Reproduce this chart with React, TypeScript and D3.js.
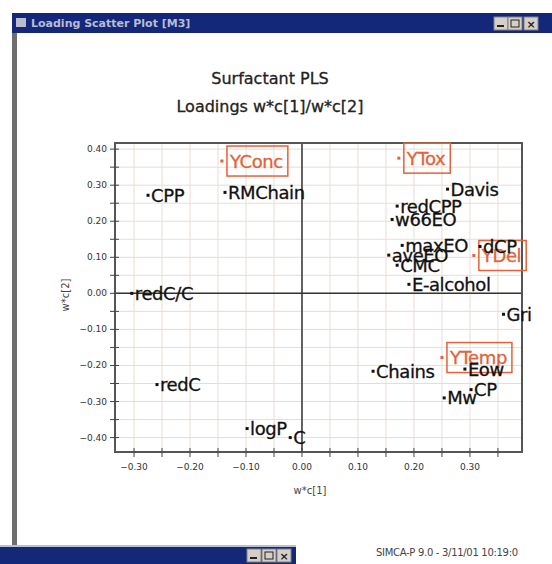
import * as d3 from 'd3'
import { useEffect, useRef } from 'react'

// loadings
const names = [
  'YConc', 'CPP', 'RMChain', 'redC/C', 'YTox', 'Davis', 'redCPP', 'w66EO',
  'YDel', 'maxEO', 'dCP', 'aveEO', 'CMC', 'E-alcohol', 'Gri', 'YTemp',
  'Eow', 'Chains', 'CP', 'Mw', 'redC', 'logP', 'C',
]
const wc1 = [
  -0.143, -0.275, -0.1375, -0.304, 0.173, 0.26, 0.17, 0.161,
  0.307, 0.179, 0.318, 0.155, 0.17, 0.191, 0.36, 0.25,
  0.291, 0.127, 0.302, 0.254, -0.259, -0.098, -0.021,
]
const wc2 = [
  0.367, 0.272, 0.28, 0.0, 0.375, 0.289, 0.242, 0.205,
  0.105, 0.133, 0.13, 0.106, 0.078, 0.025, -0.058, -0.178,
  -0.21, -0.216, -0.267, -0.29, -0.253, -0.375, -0.4,
]
const responses = ['YConc', 'YTox', 'YDel', 'YTemp']
const xTickValues = [-0.3, -0.2, -0.1, 0, 0.1, 0.2, 0.3]
const yTickValues = [0.4, 0.3, 0.2, 0.1, 0, -0.1, -0.2, -0.3, -0.4]

const titleLines = ['Surfactant PLS', 'Loadings w*c[1]/w*c[2]']
const windowTitle = 'Loading Scatter Plot [M3]'
const footer = 'SIMCA-P 9.0 - 3/11/01 10:19:0'

const navy = '#14287a'
const orange = '#e2623a'
const font = 'DejaVu Sans, Verdana, sans-serif'

export default function App() {
  const ref = useRef<SVGSVGElement>(null)

  useEffect(() => {
    const svg = d3.select(ref.current)
    svg.selectAll('*').remove()

    const x = d3.scaleLinear().domain([-0.334, 0.393]).range([115, 522])
    const y = d3.scaleLinear().domain([-0.44, 0.417]).range([452, 143])

    // window chrome
    svg.append('rect').attr('x', 12).attr('y', 13).attr('width', 540).attr('height', 20).attr('fill', navy)
    svg.append('rect').attr('x', 16).attr('y', 18).attr('width', 10).attr('height', 9).attr('fill', '#b8bccc')
    svg.append('text').attr('x', 31).attr('y', 27).attr('fill', '#b9bdd2')
      .attr('font-family', font).attr('font-size', 11).attr('font-weight', 'bold').text(windowTitle)
    ;[494, 508, 524].forEach((bx, i) => {
      svg.append('rect').attr('x', bx).attr('y', 17).attr('width', 14).attr('height', 13)
        .attr('fill', '#d4d0c8').attr('stroke', '#808080')
      if (i === 0) svg.append('rect').attr('x', bx + 3).attr('y', 25).attr('width', 7).attr('height', 2).attr('fill', '#222')
      if (i === 1) svg.append('rect').attr('x', bx + 3).attr('y', 20).attr('width', 8).attr('height', 7).attr('fill', 'none').attr('stroke', '#222')
      if (i === 2) svg.append('text').attr('x', bx + 7).attr('y', 28).attr('text-anchor', 'middle')
        .attr('font-family', font).attr('font-size', 11).attr('font-weight', 'bold').attr('fill', '#222').text('×')
    })
    svg.append('rect').attr('x', 12).attr('y', 33).attr('width', 5).attr('height', 512).attr('fill', '#6e6e6e')

    // bottom window
    svg.append('rect').attr('x', 0).attr('y', 545).attr('width', 296).attr('height', 19).attr('fill', navy)
    svg.append('rect').attr('x', 0).attr('y', 545).attr('width', 296).attr('height', 2).attr('fill', '#b9c0d6')
    ;[247, 262, 277].forEach((bx, i) => {
      svg.append('rect').attr('x', bx).attr('y', 549).attr('width', 14).attr('height', 13)
        .attr('fill', '#d4d0c8').attr('stroke', '#808080')
      if (i === 0) svg.append('rect').attr('x', bx + 3).attr('y', 557).attr('width', 7).attr('height', 2).attr('fill', '#222')
      if (i === 1) svg.append('rect').attr('x', bx + 3).attr('y', 552).attr('width', 8).attr('height', 7).attr('fill', 'none').attr('stroke', '#222')
      if (i === 2) svg.append('text').attr('x', bx + 7).attr('y', 560).attr('text-anchor', 'middle')
        .attr('font-family', font).attr('font-size', 11).attr('font-weight', 'bold').attr('fill', '#222').text('×')
    })
    svg.append('text').attr('x', 376).attr('y', 556).attr('fill', '#444')
      .attr('font-family', font).attr('font-size', 10).attr('letter-spacing', -0.3).text(footer)

    // title
    titleLines.forEach((t, i) => {
      svg.append('text').attr('x', 270).attr('y', 84 + i * 28).attr('text-anchor', 'middle')
        .attr('font-family', font).attr('font-size', 16).attr('fill', '#222')
        .attr('stroke', '#222').attr('stroke-width', 0.3).text(t)
    })

    // grid every 0.05
    const gx = d3.range(-0.3, 0.3901, 0.05)
    const gy = d3.range(-0.4, 0.4101, 0.05)
    const grid = svg.append('g').attr('stroke', '#e8ddd5').attr('stroke-width', 1)
    gx.forEach(v => grid.append('line').attr('x1', x(v)).attr('x2', x(v)).attr('y1', 143).attr('y2', 452))
    gy.forEach(v => grid.append('line').attr('y1', y(v)).attr('y2', y(v)).attr('x1', 115).attr('x2', 522))

    // zero lines
    svg.append('line').attr('x1', x(0)).attr('x2', x(0)).attr('y1', 143).attr('y2', 452).attr('stroke', '#333').attr('stroke-width', 1.5)
    svg.append('line').attr('y1', y(0)).attr('y2', y(0)).attr('x1', 115).attr('x2', 522).attr('stroke', '#333').attr('stroke-width', 1.5)

    // frame
    svg.append('rect').attr('x', 115).attr('y', 143).attr('width', 407).attr('height', 309)
      .attr('fill', 'none').attr('stroke', '#555').attr('stroke-width', 2)

    // ticks
    gx.forEach(v => svg.append('line').attr('x1', x(v)).attr('x2', x(v)).attr('y1', 448).attr('y2', 457).attr('stroke', '#444'))
    gy.forEach(v => svg.append('line').attr('y1', y(v)).attr('y2', y(v)).attr('x1', 110).attr('x2', 119).attr('stroke', '#444'))

    const fmt = d3.format('.2f')
    xTickValues.forEach(v => svg.append('text').attr('x', x(v)).attr('y', 470).attr('text-anchor', 'middle')
      .attr('font-family', font).attr('font-size', 9).attr('fill', '#333').text(fmt(v)))
    yTickValues.forEach(v => svg.append('text').attr('x', 107).attr('y', y(v) + 3).attr('text-anchor', 'end')
      .attr('font-family', font).attr('font-size', 9).attr('fill', '#333').text(fmt(v)))

    svg.append('text').attr('x', 310).attr('y', 494).attr('text-anchor', 'middle')
      .attr('font-family', font).attr('font-size', 10).attr('fill', '#444').text('w*c[1]')
    svg.append('text').attr('transform', 'translate(69,295) rotate(-90)').attr('text-anchor', 'middle')
      .attr('font-family', font).attr('font-size', 10).attr('fill', '#444').text('w*c[2]')

    // points: responses first, then the X variables on top
    const idx = d3.range(names.length)
    const order = [...idx.filter(i => responses.includes(names[i])), ...idx.filter(i => !responses.includes(names[i]))]
    order.forEach(i => {
      const px = x(wc1[i])
      const py = y(wc2[i])
      const isY = responses.includes(names[i])
      const col = isY ? orange : '#111'
      svg.append('rect').attr('x', px - 1.5).attr('y', py - 1.5).attr('width', 3).attr('height', 3).attr('fill', col)
      const t = svg.append('text').attr('x', px + (isY ? 8 : 3)).attr('y', py + 6.5)
        .attr('font-family', font).attr('font-size', 18).attr('letter-spacing', -0.4).attr('fill', col)
        .attr('stroke', col).attr('stroke-width', 0.3).text(names[i])
      if (isY) {
        const w = (t.node() as SVGTextElement).getComputedTextLength()
        svg.insert('rect', () => t.node() as SVGTextElement)
          .attr('x', px + 5).attr('y', py - 15).attr('width', w + 8).attr('height', 30)
          .attr('fill', 'none').attr('stroke', orange).attr('stroke-width', 1.5)
      }
    })
  }, [])

  return (
    <div style={{ position: 'fixed', left: 0, top: 0, background: '#fff' }}>
      <svg ref={ref} width={552} height={564} />
    </div>
  )
}
